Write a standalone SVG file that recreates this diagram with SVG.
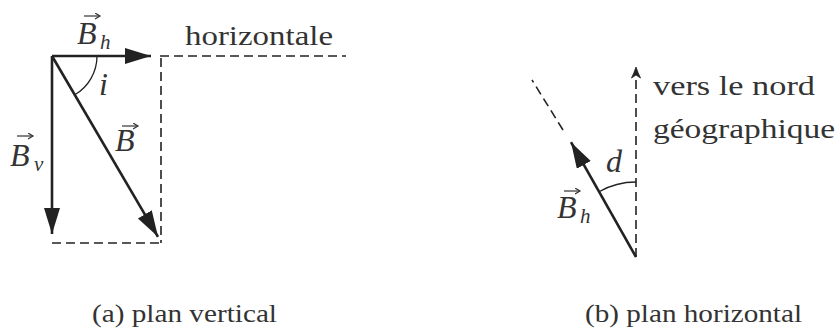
<svg xmlns="http://www.w3.org/2000/svg" width="838" height="329" viewBox="0 0 838 329">
<defs>
<style>
.vec{stroke:#222;stroke-width:2.6;fill:none}
.dash{stroke:#222;stroke-width:1.6;fill:none;stroke-dasharray:9 5}
.arc{stroke:#222;stroke-width:1.3;fill:none}
text{fill:#333;font-family:'Liberation Serif','DejaVu Serif',serif}
.txt{font-size:28px}
.math{font-style:italic;font-size:32px}
.sub{font-style:italic;font-size:21px}
.cap{font-size:26px}
.ov{stroke:#333;stroke-width:1.2;fill:none}
</style>
<marker id="head" markerUnits="userSpaceOnUse" markerWidth="28" markerHeight="18" refX="26" refY="8" orient="auto" viewBox="0 0 28 18">
<path d="M0,0 L26,8 L0,16 z" fill="#222"/>
</marker>
<marker id="ovhead" markerUnits="userSpaceOnUse" markerWidth="8" markerHeight="8" refX="5" refY="3" orient="auto" viewBox="0 0 8 8">
<path d="M0,0 L5,3 L0,6" fill="none" stroke="#333" stroke-width="1.2"/>
</marker>
</defs>

<g id="connectors">
<line class="vec" x1="52" y1="56" x2="151" y2="56" marker-end="url(#head)"/>
<line class="vec" x1="52" y1="56" x2="52" y2="234" marker-end="url(#head)"/>
<line class="vec" x1="52" y1="56" x2="158" y2="236.8" marker-end="url(#head)"/>
<line class="dash" x1="160" y1="56" x2="346" y2="56"/>
<line class="dash" x1="161" y1="58" x2="161" y2="243"/>
<line class="dash" x1="52" y1="243" x2="161" y2="243"/>
<path class="arc" d="M97,56 A45,45 0 0 1 74.8,94.8"/>
<line class="dash" x1="636" y1="257" x2="636" y2="74"/>
<path d="M631.5,78 Q634,73 636,67 Q638,73 640.5,78 L636,75 z" fill="#222" stroke="#222" stroke-width="0.8"/>
<line class="vec" x1="636" y1="257" x2="571" y2="142.2" marker-end="url(#head)"/>
<line class="dash" x1="563" y1="130" x2="532" y2="80"/>
<path class="arc" d="M636,182 A75,75 0 0 0 599,191.7"/>
</g>

<g id="label-Bh-left">
<text class="math" x="77" y="44">B</text>
<text class="sub" x="100" y="49">h</text>
<line class="ov" x1="84" y1="16" x2="100" y2="16" marker-end="url(#ovhead)"/>
</g>
<g id="label-horizontale">
<text class="txt" x="185" y="45" textLength="148" lengthAdjust="spacingAndGlyphs">horizontale</text>
</g>
<g id="label-i">
<text class="math" x="99" y="95">i</text>
</g>
<g id="label-Bv">
<text class="math" x="10" y="166">B</text>
<text class="sub" x="34" y="171">v</text>
<line class="ov" x1="17" y1="136" x2="33" y2="136" marker-end="url(#ovhead)"/>
</g>
<g id="label-B">
<text class="math" x="115" y="151">B</text>
<line class="ov" x1="122" y1="126" x2="138" y2="126" marker-end="url(#ovhead)"/>
</g>

<g id="label-nord">
<text class="txt" x="653" y="95" textLength="162" lengthAdjust="spacingAndGlyphs">vers le nord</text>
<text class="txt" x="653" y="138" textLength="182" lengthAdjust="spacingAndGlyphs">géographique</text>
</g>
<g id="label-d">
<text class="math" x="606" y="172">d</text>
</g>
<g id="label-Bh-right">
<text class="math" x="557" y="218">B</text>
<text class="sub" x="580" y="223">h</text>
<line class="ov" x1="564" y1="191" x2="580" y2="191" marker-end="url(#ovhead)"/>
</g>

<g id="caption-a">
<text class="cap" x="92" y="322" textLength="185" lengthAdjust="spacingAndGlyphs">(a) plan vertical</text>
</g>
<g id="caption-b">
<text class="cap" x="585" y="322" textLength="217" lengthAdjust="spacingAndGlyphs">(b) plan horizontal</text>
</g>
</svg>
